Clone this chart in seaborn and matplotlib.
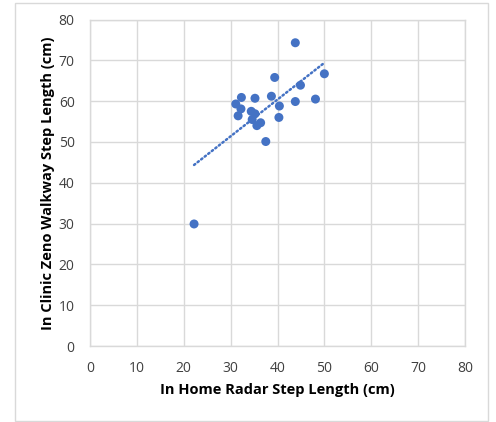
import matplotlib
matplotlib.use("Agg")
import matplotlib.pyplot as plt
import matplotlib.patches as mpatches
import seaborn as sns
import pandas as pd

# Step length measured in home by radar vs. in clinic on the Zeno walkway (cm)
radar_cm = [43.8, 50.0, 39.4, 44.9, 32.3, 35.2, 38.7, 43.8, 48.1, 31.1, 40.4,
            32.2, 34.4, 35.2, 31.6, 40.3, 34.6, 36.4, 35.6, 37.5, 22.2]
zeno_cm = [74.3, 66.7, 65.8, 63.9, 60.9, 60.7, 61.2, 59.9, 60.5, 59.3, 58.8,
           58.1, 57.5, 56.9, 56.4, 56.0, 55.5, 54.7, 54.0, 50.1, 29.9]
ticks = [0, 10, 20, 30, 40, 50, 60, 70, 80]
x_label = "In Home Radar Step Length (cm)"
y_label = "In Clinic Zeno Walkway Step Length (cm)"

df = pd.DataFrame({"radar": radar_cm, "zeno": zeno_cm})

sns.set_theme(style="white")
plt.rcParams["font.family"] = ["Open Sans", "DejaVu Sans"]

blue = "#4472C4"
grid = "#D9D9D9"

fig = plt.figure(figsize=(4.96, 4.22), dpi=100)
ax = fig.add_axes([90 / 496, 1 - 346 / 422, 375 / 496, 326.5 / 422])

sns.regplot(data=df, x="radar", y="zeno", ax=ax, ci=None, truncate=True,
            scatter_kws=dict(s=42, color=blue, edgecolor="none", zorder=3, alpha=1),
            line_kws=dict(color=blue, linestyle=(0, (0.6, 1.2)), linewidth=1.8,
                          dash_capstyle="round", zorder=2))

ax.set_xlim(0, 80)
ax.set_ylim(0, 80)
ax.set_xticks(ticks)
ax.set_yticks(ticks)
ax.tick_params(axis="both", length=0, labelsize=10, colors="#404040", pad=11)
ax.grid(True, color=grid, linewidth=1)
ax.set_axisbelow(True)
for side in ["top", "right", "left", "bottom"]:
    ax.spines[side].set_color(grid)
    ax.spines[side].set_linewidth(1)

ax.set_xlabel(x_label, fontsize=10.5, fontweight="bold", color="black", labelpad=5)
ax.set_ylabel(y_label, fontsize=10.5, fontweight="bold", color="black", labelpad=3)

# light frame around the whole chart
fig.patches.append(mpatches.Rectangle((14.7 / 496, 1 - 421 / 422), (488 - 14.7) / 496,
                                      (421 - 2.7) / 422, transform=fig.transFigure,
                                      fill=False, edgecolor=grid, linewidth=1))

fig.savefig("out.png", dpi=100)
